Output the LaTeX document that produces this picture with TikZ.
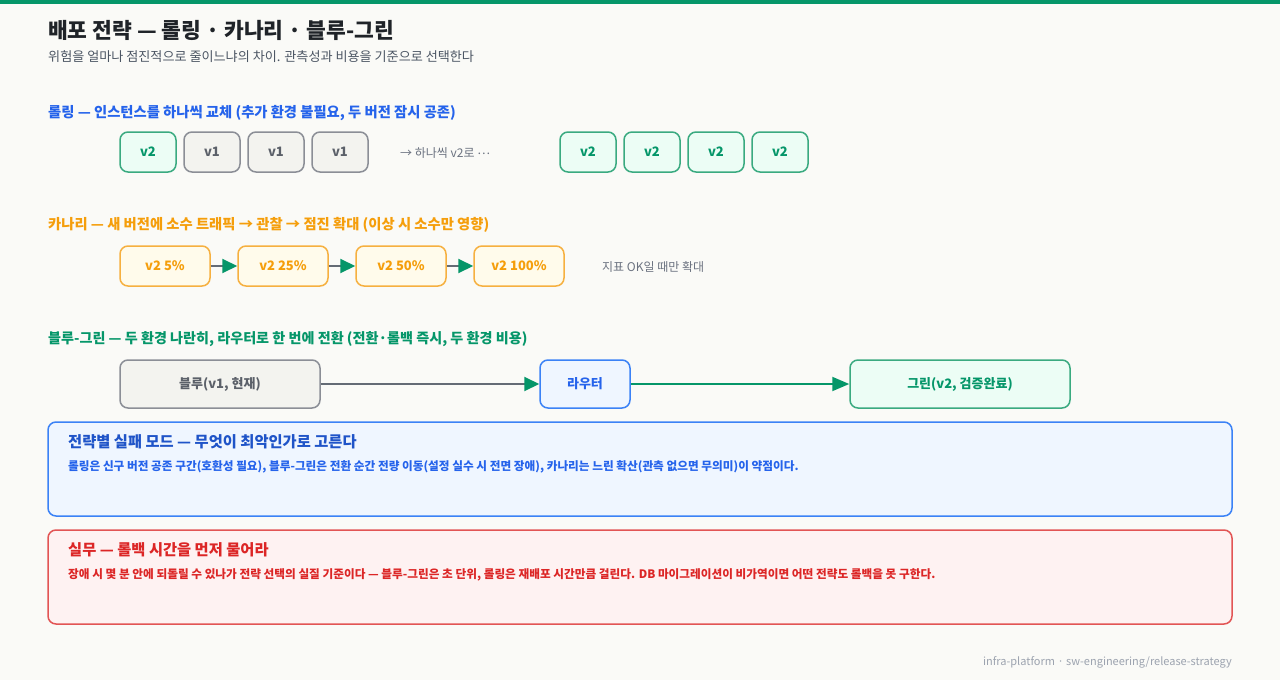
\documentclass[tikz,border=0pt]{standalone}
\usepackage{fontspec}
\setmainfont{Noto Sans CJK KR}
\usetikzlibrary{arrows.meta}
\definecolor{bg}{HTML}{FAFAF7}
\definecolor{topbar}{HTML}{059669}
\definecolor{ink}{HTML}{1F2328}
\definecolor{sub}{HTML}{4B5563}
\definecolor{muted}{HTML}{6B7280}
\definecolor{foot}{HTML}{9CA3AF}
\definecolor{blue}{HTML}{2563EB}
\definecolor{bluestroke}{HTML}{3B82F6}
\definecolor{bluefill}{HTML}{EFF6FF}
\definecolor{orange}{HTML}{F59E0B}
\definecolor{orstroke}{HTML}{F6B040}
\definecolor{orfill}{HTML}{FFFBEB}
\definecolor{green}{HTML}{059669}
\definecolor{grstroke}{HTML}{3AAA80}
\definecolor{grfill}{HTML}{ECFDF5}
\definecolor{gystroke}{HTML}{8B8E96}
\definecolor{gyfill}{HTML}{F3F3EF}
\definecolor{gytext}{HTML}{5B6069}
\definecolor{red}{HTML}{DC2626}
\definecolor{redstroke}{HTML}{E25555}
\definecolor{redfill}{HTML}{FEF2F2}
\definecolor{line}{HTML}{646B75}
\tikzset{
  txt/.style={anchor=west, inner sep=0pt},
  box/.style={rounded corners=8pt, line width=1.5pt, minimum height=40pt, inner sep=0pt, font=\fontsize{13}{15}\selectfont\bfseries},
  v2box/.style={box, draw=grstroke, fill=grfill, text=green, minimum width=56pt},
  v1box/.style={box, draw=gystroke, fill=gyfill, text=gytext, minimum width=56pt},
  canbox/.style={box, draw=orstroke, fill=orfill, text=orange, minimum width=90pt},
  grayarrow/.style={draw=line, line width=2pt, -{Triangle[length=15pt, width=14pt, color=green, fill=green]}},
  greenarrow/.style={draw=green, line width=2pt, -{Triangle[length=17pt, width=14pt, color=green, fill=green]}},
  panel/.style={rounded corners=8pt, line width=1.5pt}
}
\begin{document}
\begin{tikzpicture}[x=1pt, y=-1pt]
\useasboundingbox (0,0) rectangle (1280,680);
\fill[bg] (0,0) rectangle (1280,680);
\fill[topbar] (0,0) rectangle (1280,4);

\node[txt, text=ink, font=\fontsize{21.5}{25}\selectfont\bfseries] (title) at (48,30) {배포 전략 — 롤링 · 카나리 · 블루-그린};
\node[txt, text=sub, font=\fontsize{13.1}{16}\selectfont] (subtitle) at (48,57) {위험을 얼마나 점진적으로 줄이느냐의 차이. 관측성과 비용을 기준으로 선택한다};

% Rolling
\node[txt, text=blue, font=\fontsize{14.3}{17}\selectfont\bfseries] (h1) at (48,113) {롤링 — 인스턴스를 하나씩 교체 (추가 환경 불필요, 두 버전 잠시 공존)};
\node[v2box] (r1) at (148,152) {v2};
\node[v1box] (r2) at (212,152) {v1};
\node[v1box] (r3) at (276,152) {v1};
\node[v1box] (r4) at (340,152) {v1};
\node[txt, text=muted, font=\fontsize{12}{14}\selectfont] (rnote) at (400,153) {→ 하나씩 v2로 \raisebox{3pt}{…}};
\node[v2box] (s1) at (588,152) {v2};
\node[v2box] (s2) at (652,152) {v2};
\node[v2box] (s3) at (716,152) {v2};
\node[v2box] (s4) at (780,152) {v2};

% Canary
\node[txt, text=orange, font=\fontsize{14.3}{17}\selectfont\bfseries] (h2) at (48,225) {카나리 — 새 버전에 소수 트래픽 → 관찰 → 점진 확대 (이상 시 소수만 영향)};
\node[canbox] (c1) at (165,266) {v2 5\%};
\node[canbox] (c2) at (283,266) {v2 25\%};
\node[canbox] (c3) at (401,266) {v2 50\%};
\node[canbox] (c4) at (519,266) {v2 100\%};
\draw[grayarrow] (c1) -- (c2);
\draw[grayarrow] (c2) -- (c3);
\draw[grayarrow] (c3) -- (c4);
\node[txt, text=muted, font=\fontsize{12}{14}\selectfont] (cnote) at (602,267) {지표 OK일 때만 확대};

% Blue-green
\node[txt, text=green, font=\fontsize{14.1}{17}\selectfont\bfseries] (h3) at (48,339) {블루-그린 — 두 환경 나란히, 라우터로 한 번에 전환 (전환·롤백 즉시, 두 환경 비용)};
\node[box, draw=gystroke, fill=gyfill, text=gytext, minimum width=200pt, minimum height=48pt] (blue) at (220,384) {블루(v1, 현재)};
\node[box, draw=bluestroke, fill=bluefill, text=blue, minimum width=90pt, minimum height=48pt] (router) at (585,384) {라우터};
\node[box, draw=grstroke, fill=grfill, text=green, minimum width=220pt, minimum height=48pt] (green) at (960,384) {그린(v2, 검증완료)};
\draw[grayarrow] (blue) -- (router);
\draw[greenarrow] (router) -- (green);

% Panels
\draw[panel, draw=bluestroke, fill=bluefill] (48,422) rectangle (1232,516);
\node[txt, text=blue!85!black, font=\fontsize{15.3}{18}\selectfont\bfseries] (p1t) at (68,442) {전략별 실패 모드 — 무엇이 최악인가로 고른다};
\node[txt, text=blue, font=\fontsize{11.65}{14}\selectfont\bfseries] (p1b) at (68,467) {롤링은 신구 버전 공존 구간(호환성 필요), 블루-그린은 전환 순간 전량 이동(설정 실수 시 전면 장애), 카나리는 느린 확산(관측 없으면 무의미)이 약점이다.};

\draw[panel, draw=redstroke, fill=redfill] (48,530) rectangle (1232,624);
\node[txt, text=red, font=\fontsize{15.3}{18}\selectfont\bfseries] (p2t) at (68,550) {실무 — 롤백 시간을 먼저 물어라};
\node[txt, text=red, font=\fontsize{11.65}{14}\selectfont\bfseries] (p2b) at (68,575) {장애 시 몇 분 안에 되돌릴 수 있나가 전략 선택의 실질 기준이다 — 블루-그린은 초 단위, 롤링은 재배포 시간만큼 걸린다. DB 마이그레이션이 비가역이면 어떤 전략도 롤백을 못 구한다.};

\node[anchor=east, inner sep=0pt, text=foot, font=\fontsize{11}{13}\selectfont] (footer) at (1232,662) {infra-platform · sw-engineering/release-strategy};
\end{tikzpicture}
\end{document}
